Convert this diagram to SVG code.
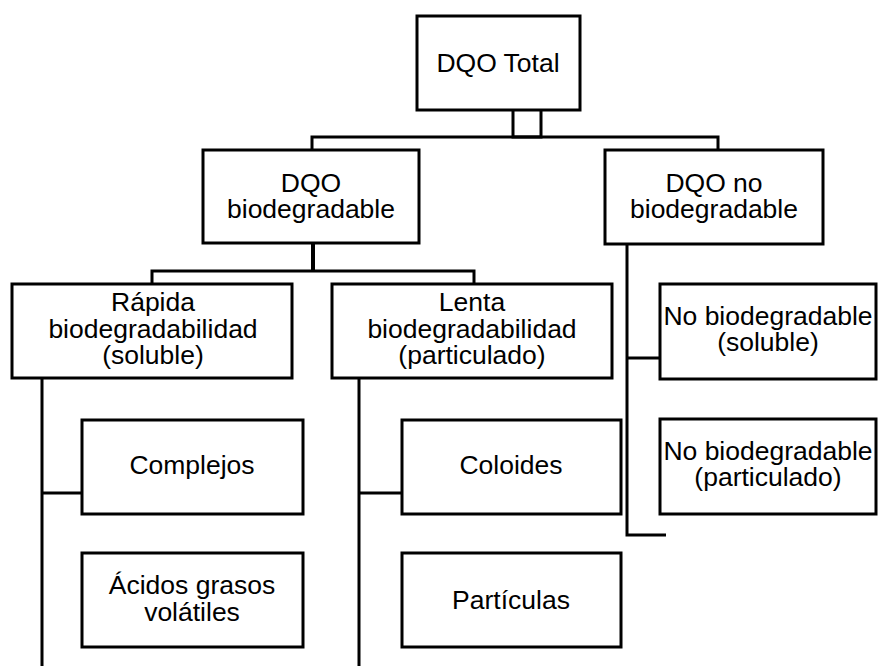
<svg xmlns="http://www.w3.org/2000/svg" width="878" height="666" viewBox="0 0 878 666">
<style>
.box{fill:#fff;stroke:#000;stroke-width:3}
.ln{fill:none;stroke:#000;stroke-width:3}
text{font-family:"Liberation Sans",Arial,sans-serif;font-size:26.5px;fill:#000;text-anchor:middle}
</style>
<rect width="878" height="666" fill="#fff"/>
<g id="connectors">
<path class="ln" d="M513,110V137H541V110"/>
<path class="ln" d="M312,150V137H718V150"/>
<path class="ln" d="M313,243V271" style="stroke-width:4"/>
<path class="ln" d="M152,284V271H474V284"/>
<path class="ln" d="M42,378V666M42,493H82"/>
<path class="ln" d="M359,378V666M359,493H402"/>
<path class="ln" d="M627,244V535H666M627,358H660"/>
</g>
<g id="dqo-total"><rect class="box" x="417" y="16" width="163" height="94"/><text x="498" y="72">DQO Total</text></g>
<g id="dqo-bio"><rect class="box" x="203" y="150" width="216" height="93"/><text x="311" y="192">DQO</text><text x="311" y="218">biodegradable</text></g>
<g id="dqo-nobio"><rect class="box" x="605" y="150" width="218" height="94"/><text x="714" y="192">DQO no</text><text x="714" y="218">biodegradable</text></g>
<g id="rapida"><rect class="box" x="12" y="284" width="280" height="94"/><text x="153" y="311">Rápida</text><text x="153" y="338">biodegradabilidad</text><text x="153" y="364">(soluble)</text></g>
<g id="lenta"><rect class="box" x="332" y="284" width="280" height="94"/><text x="472" y="311">Lenta</text><text x="472" y="338">biodegradabilidad</text><text x="472" y="364">(particulado)</text></g>
<g id="nb-soluble"><rect class="box" x="660" y="284" width="216" height="95"/><text x="768" y="325">No biodegradable</text><text x="768" y="351">(soluble)</text></g>
<g id="nb-particulado"><rect class="box" x="660" y="419" width="216" height="95"/><text x="768" y="460">No biodegradable</text><text x="768" y="486">(particulado)</text></g>
<g id="complejos"><rect class="box" x="82" y="420" width="221" height="94"/><text x="192" y="474">Complejos</text></g>
<g id="acidos"><rect class="box" x="82" y="553" width="221" height="94"/><text x="192" y="594">Ácidos grasos</text><text x="192" y="621">volátiles</text></g>
<g id="coloides"><rect class="box" x="402" y="420" width="219" height="94"/><text x="511" y="474">Coloides</text></g>
<g id="particulas"><rect class="box" x="402" y="553" width="219" height="94"/><text x="511" y="609">Partículas</text></g>
</svg>
